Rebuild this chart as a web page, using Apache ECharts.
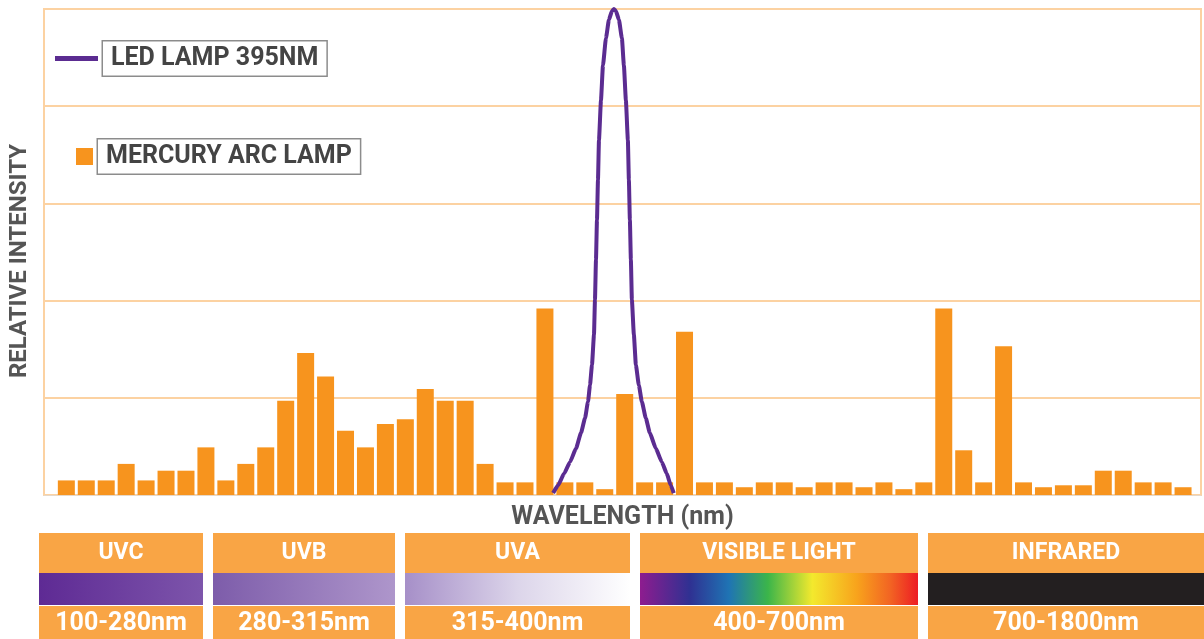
<!DOCTYPE html>
<html>
<head>
<meta charset="utf-8">
<script src="https://cdn.jsdelivr.net/npm/echarts@6/dist/echarts.min.js"></script>
<style>
  html, body { margin: 0; padding: 0; background: #fff; }
  #chart { width: 1204px; height: 639px; }
</style>
</head>
<body>
<div id="chart"></div>
<script>
// mercury arc lamp lines, one bar per slot (relative intensity, 0..5)
const mercuryValues = [
  0.15, 0.15, 0.15, 0.32, 0.15, 0.25, 0.25, 0.49, 0.15, 0.32,
  0.49, 0.97, 1.46, 1.22, 0.66, 0.49, 0.73, 0.78, 1.09, 0.97,
  0.97, 0.32, 0.13, 0.13, 1.92, 0.13, 0.13, 0.06, 1.04, 0.13,
  0.13, 1.68, 0.13, 0.13, 0.08, 0.13, 0.13, 0.08, 0.13, 0.13,
  0.08, 0.13, 0.06, 0.13, 1.92, 0.46, 0.13, 1.53, 0.13, 0.08,
  0.10, 0.10, 0.25, 0.25, 0.13, 0.13, 0.08
];
// LED 395nm curve, x in bar slots
const ledX = [
  24.41, 24.66, 24.96, 25.26, 25.56, 25.81, 26.01, 26.16, 26.26, 26.36, 26.46,
  26.51, 26.56, 26.61, 26.66, 26.71, 26.81, 26.91, 27.06, 27.21, 27.36, 27.46,
  27.56, 27.71, 27.86, 27.96, 28.06, 28.16, 28.21, 28.26, 28.31, 28.36, 28.46,
  28.56, 28.71, 28.86, 29.06, 29.26, 29.56, 29.86, 30.11, 30.31, 30.46
];
const ledY = [
  0.02, 0.10, 0.22, 0.34, 0.48, 0.64, 0.79, 0.96, 1.13, 1.34, 1.65,
  2.01, 2.42, 2.83, 3.24, 3.65, 4.06, 4.42, 4.70, 4.89, 4.98, 5.0,
  4.98, 4.89, 4.70, 4.42, 4.06, 3.65, 3.24, 2.83, 2.42, 2.01, 1.65,
  1.34, 1.13, 0.96, 0.79, 0.64, 0.48, 0.34, 0.22, 0.10, 0.02
];

const yTicks = [0, 1, 2, 3, 4, 5];

// spectrum bands under the chart
const bandNames = ['UVC', 'UVB', 'UVA', 'VISIBLE LIGHT', 'INFRARED'];
const bandRanges = ['100-280nm', '280-315nm', '315-400nm', '400-700nm', '700-1800nm'];

const bandLeft = [39, 213, 405, 640, 928];
const bandWidth = [164, 182, 225, 278, 276];
const bandStops = [
  [[0, '#5E2A94'], [1, '#7D55AB']],
  [[0, '#7D5CAA'], [1, '#AE96CB']],
  [[0, '#A68FC8'], [0.5, '#DCD5EA'], [1, '#FFFFFF']],
  [[0, '#8E1C8F'], [0.18, '#2F3192'], [0.32, '#1F74B4'], [0.46, '#3BB54A'],
   [0.62, '#F3E92D'], [0.78, '#F8A31C'], [0.9, '#F26423'], [1, '#ED1C24']],
  [[0, '#231F20'], [1, '#231F20']]
];

const orange = '#F7941E';
const bandOrange = '#F9A545';
const gridLine = '#FCD2A2';

const chart = echarts.init(document.getElementById('chart'));

let graphics = [];
for (let i = 0; i < bandNames.length; i++) {
  let x = bandLeft[i], w = bandWidth[i];
  graphics.push({
    type: 'group',
    left: x,
    top: 533,
    children: [
      { type: 'rect', shape: { x: 0, y: 0, width: w, height: 40 }, style: { fill: bandOrange } },
      {
        type: 'rect', shape: { x: 0, y: 40, width: w, height: 32 },
        style: {
          fill: new echarts.graphic.LinearGradient(0, 0, 1, 0,
            bandStops[i].map(s => ({ offset: s[0], color: s[1] })))
        }
      },
      { type: 'rect', shape: { x: 0, y: 73, width: w, height: 40 }, style: { fill: bandOrange } },
      {
        type: 'text', x: w / 2, y: 20,
        style: { text: bandNames[i], fill: '#fff', font: 'bold 23px Roboto', align: 'center', verticalAlign: 'middle' }
      },
      {
        type: 'text', x: w / 2, y: 91,
        style: { text: bandRanges[i], fill: '#fff', font: 'bold 25px Roboto', align: 'center', verticalAlign: 'middle' }
      }
    ]
  });
}

const legendText = {
  color: '#444',
  fontFamily: 'Roboto',
  fontSize: 25,
  fontWeight: 'bold',
  borderColor: '#8c8c8c',
  borderWidth: 1.5,
  backgroundColor: '#fff',
  padding: [5, 8, 4, 8]
};

const option = {
  animation: false,
  backgroundColor: '#fff',
  textStyle: { fontFamily: 'Roboto' },
  grid: {
    left: 40, right: 3, top: 9, bottom: 144,
    show: true,
    borderColor: gridLine,
    borderWidth: 2
  },
  legend: [
    {
      data: ['LED LAMP 395NM'],
      left: 55, top: 40,
      padding: 0,
      icon: 'rect',
      itemWidth: 43, itemHeight: 5,
      textStyle: legendText
    },
    {
      data: ['MERCURY ARC LAMP'],
      left: 76, top: 138,
      padding: 0,
      icon: 'rect',
      itemWidth: 17, itemHeight: 17,
      textStyle: legendText
    }
  ],
  xAxis: {
    type: 'value',
    min: -1.12,
    max: 56.9,
    name: 'WAVELENGTH (nm)',
    nameLocation: 'middle',
    nameGap: 10,
    nameTextStyle: { color: '#555', fontSize: 25, fontWeight: 'bold', verticalAlign: 'top' },
    axisLine: { show: true, lineStyle: { color: '#E6D8C8', width: 1 } },
    axisTick: { show: false },
    axisLabel: { show: false },
    splitLine: { show: false }
  },
  yAxis: {
    type: 'value',
    min: yTicks[0],
    max: yTicks[yTicks.length - 1],
    interval: 1,
    name: 'RELATIVE INTENSITY',
    nameLocation: 'middle',
    nameGap: 12,
    nameTextStyle: { color: '#555', fontSize: 24, fontWeight: 'bold', padding: [0, 18, 0, 0] },
    axisLine: { show: true, onZero: false, lineStyle: { color: gridLine, width: 2 } },
    axisTick: { show: false },
    axisLabel: { show: false },
    splitLine: { show: true, lineStyle: { color: gridLine, width: 2 } }
  },
  series: [
    {
      name: 'MERCURY ARC LAMP',
      type: 'bar',
      barWidth: 17,
      itemStyle: { color: orange },
      data: mercuryValues.map((v, i) => [i, v])
    },
    {
      name: 'LED LAMP 395NM',
      type: 'line',
      showSymbol: false,
      smooth: 0.15,
      smoothMonotone: 'x',
      itemStyle: { color: '#5B2C91' },
      lineStyle: { color: '#5B2C91', width: 4 },
      data: ledX.map((x, i) => [x, ledY[i]]),
      z: 5
    }
  ],
  graphic: graphics
};

chart.setOption(option);
</script>
</body>
</html>
